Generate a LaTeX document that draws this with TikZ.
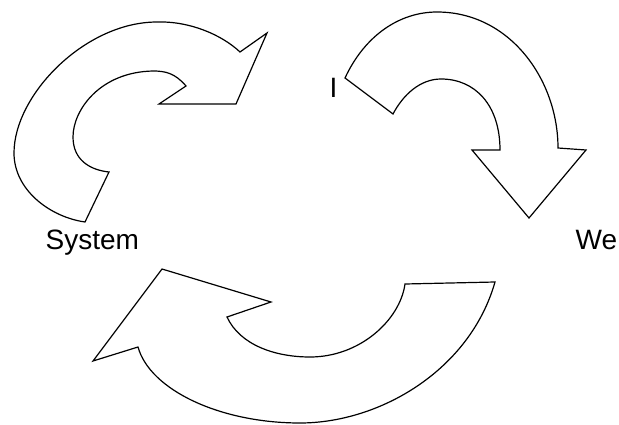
\documentclass[tikz,border=0pt]{standalone}
\usepackage{fontspec}
\setmainfont{Liberation Sans}
\begin{document}
\begin{tikzpicture}[x=1pt,y=-1pt,
  arrowshape/.style={draw=black,fill=white,line width=1.2pt,line join=miter},
  lbl/.style={inner sep=0pt,anchor=base west,font=\fontsize{28}{33}\selectfont}]
\useasboundingbox (0,0) rectangle (619,425);
% top-left arrow
\draw[arrowshape] (109,172) -- (85,222)
  .. controls (50,217) and (14,190) .. (14,153)
  .. controls (14,95) and (85,22) .. (157,22)
  .. controls (190,21) and (222,35) .. (240,52)
  -- (267,33) -- (236,104) -- (159,104) -- (186,86)
  .. controls (175,73) and (165,71) .. (153,71)
  .. controls (100,72) and (73,110) .. (73,137)
  .. controls (73,160) and (90,170) .. (109,172)
  -- cycle;
% top-right arrow
\draw[arrowshape] (393,114) -- (345,78)
  .. controls (365,35) and (400,12) .. (437,12)
  .. controls (510,12) and (558,80) .. (558,148)
  -- (586,150) -- (529,218) -- (472,150) -- (500,150)
  .. controls (500,105) and (475,79) .. (441,79)
  .. controls (420,79) and (403,95) .. (393,114)
  -- cycle;
% bottom arrow
\draw[arrowshape] (405,284) -- (495,282)
  .. controls (470,370) and (380,423) .. (300,423)
  .. controls (220,423) and (150,390) .. (138,347)
  -- (93,361) -- (162,269) -- (271,302) -- (227,317)
  .. controls (240,345) and (275,357) .. (310,357)
  .. controls (360,357) and (400,320) .. (405,284)
  -- cycle;
\node[lbl] (system) at (45.5,249) {System};
\node[lbl] (we) at (575.5,249) {We};
\node[lbl] (i) at (329.5,98) {I};
\end{tikzpicture}
\end{document}
